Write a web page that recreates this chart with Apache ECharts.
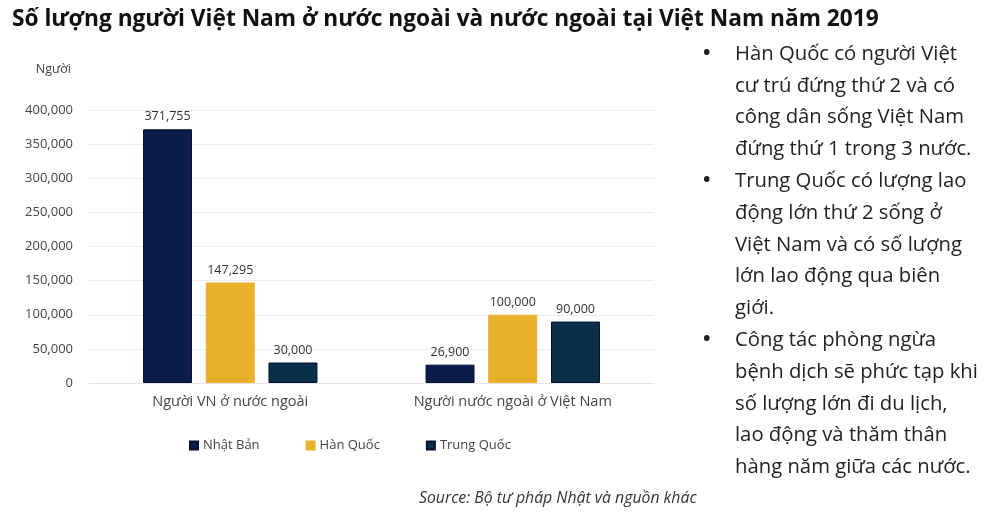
<!DOCTYPE html>
<html>
<head>
    <meta charset='utf-8'/>
    <title>Người Việt Nam ở nước ngoài 2019</title>
    <style>
        body {
            margin: 0;
            padding: 0;
            background: #fff;
        }

        #chart {
            width: 1000px;
            height: 513px;
        }
    </style>
</head>
<body>
<div id='chart'></div>
<script src="https://cdn.jsdelivr.net/npm/echarts@6/dist/echarts.min.js"></script>
<script type="text/javascript">
    var categories = ['Người VN ở nước ngoài', 'Người nước ngoài ở Việt Nam'];
    var seriesNames = ['Nhật Bản', 'Hàn Quốc', 'Trung Quốc'];
    var japan = [371755, 26900];
    var korea = [147295, 100000];
    var china = [30000, 90000];
    var colors = ['#0b1b4b', '#e9b02b', '#0b2f49'];

    var notes = [
        ['Hàn Quốc có người Việt', 'cư trú đứng thứ 2 và có', 'công dân sống Việt Nam', 'đứng thứ 1 trong 3 nước.'],
        ['Trung Quốc có lượng lao', 'động lớn thứ 2 sống ở', 'Việt Nam và có số lượng', 'lớn lao động qua biên', 'giới.'],
        ['Công tác phòng ngừa', 'bệnh dịch sẽ phức tạp khi', 'số lượng lớn đi du lịch,', 'lao động và thăm thân', 'hàng năm giữa các nước.']
    ];

    var font = '"Open Sans", Lato, sans-serif';

    // bullet text on the right
    var graphics = [];
    var y = 55;
    notes.forEach(function (block) {
        graphics.push({
            type: 'text', left: 703, top: y - 12,
            style: {text: '•', font: 'bold 20px ' + font, fill: '#222'}
        });
        block.forEach(function (line) {
            graphics.push({
                type: 'text', left: 735, top: y - 11,
                style: {text: line, font: '20.3px ' + font, fill: '#222'}
            });
            y += 31.8;
        });
    });
    graphics.push({
        type: 'text', left: 419, top: 490,
        style: {text: 'Source: Bộ tư pháp Nhật và nguồn khác', font: 'italic 15.8px ' + font, fill: '#333'}
    });

    var labelStyle = {
        show: true,
        position: 'top',
        distance: 6,
        fontFamily: font,
        fontSize: 12.5,
        color: '#333',
        formatter: function (p) {
            return p.value.toLocaleString('en-US');
        }
    };

    function makeSeries(name, data, i) {
        return {
            name: name,
            type: 'bar',
            data: data,
            barWidth: 49,
            barGap: '28%',
            itemStyle: {
                color: colors[i],
                borderColor: i === 1 ? colors[i] : '#08122e',
                borderWidth: 1
            },
            label: labelStyle
        };
    }

    var chart = echarts.init(document.getElementById('chart'));
    chart.setOption({
        animation: false,
        title: {
            text: 'Số lượng người Việt Nam ở nước ngoài và nước ngoài tại Việt Nam năm 2019',
            left: 7,
            top: 3,
            textStyle: {fontFamily: font, fontWeight: 'bold', fontSize: 22.7, color: '#111'}
        },
        legend: {
            data: seriesNames,
            left: 184,
            top: 434,
            itemWidth: 8,
            itemHeight: 8,
            itemGap: 46,
            icon: 'rect',
            textStyle: {fontFamily: font, fontSize: 13, color: '#444'}
        },
        grid: {
            left: 89,
            right: 346,
            top: 110,
            bottom: 130
        },
        xAxis: {
            type: 'category',
            data: categories,
            axisTick: {show: false},
            axisLine: {lineStyle: {color: '#e3e3e3'}},
            axisLabel: {fontFamily: font, fontSize: 14.5, color: '#444', margin: 11}
        },
        yAxis: {
            type: 'value',
            name: 'Người',
            nameLocation: 'end',
            nameGap: 34,
            nameTextStyle: {fontFamily: font, fontSize: 12.5, color: '#444', align: 'right', padding: [0, 18, 0, 0]},
            min: 0,
            max: 400000,
            interval: 50000,
            axisLine: {show: false},
            axisTick: {show: false},
            splitLine: {lineStyle: {color: '#ececec'}},
            axisLabel: {
                fontFamily: font, fontSize: 13, color: '#444', margin: 16,
                formatter: function (v) {
                    return v.toLocaleString('en-US');
                }
            }
        },
        graphic: graphics,
        series: [
            makeSeries(seriesNames[0], japan, 0),
            makeSeries(seriesNames[1], korea, 1),
            makeSeries(seriesNames[2], china, 2)
        ]
    });
</script>
</body>
</html>
